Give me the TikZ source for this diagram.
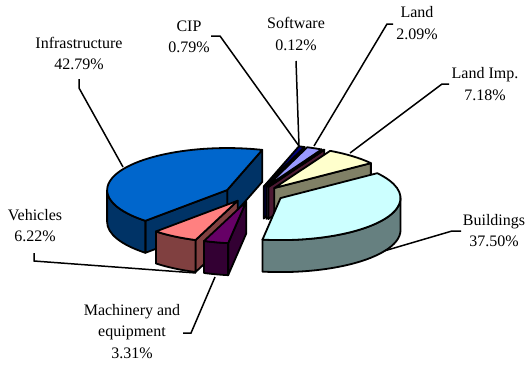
\documentclass[tikz,border=0pt]{standalone}
\usepackage{fontspec}
\setmainfont{Liberation Serif}
\definecolor{cipT}{HTML}{000080}\definecolor{cipS}{HTML}{000040}
\definecolor{landT}{HTML}{9999FF}\definecolor{landS}{HTML}{4D4D80}
\definecolor{softT}{HTML}{993366}\definecolor{softS}{HTML}{4D1A33}
\definecolor{limpT}{HTML}{FFFFCC}\definecolor{limpS}{HTML}{808066}
\definecolor{bldT}{HTML}{CCFFFF}\definecolor{bldS}{HTML}{668080}
\definecolor{machT}{HTML}{660066}\definecolor{machS}{HTML}{330033}
\definecolor{vehT}{HTML}{FF8080}\definecolor{vehS}{HTML}{804040}
\definecolor{infT}{HTML}{0066CC}\definecolor{infS}{HTML}{003366}
\def\CX{254}\def\CY{194}\def\DP{32}\def\EX{31}\def\EY{7.9}
\newcommand\sliceapex[2]{%
  \pgfmathsetmacro\smid{(#1+#2)/2}%
  \pgfmathsetmacro\ax{\CX+\EX*cos(\smid)}%
  \pgfmathsetmacro\ay{-\CY+\EY*sin(\smid)}}
\newcommand\faceat[2]{%
  \filldraw[pie, fill=#2] (\ax,\ay) -- ++(#1:120pt and 42pt) -- ++(0,-\DP) -- (\ax,\ay-\DP) -- cycle;}
\newcommand\wallface[3]{%
  \filldraw[pie, fill=#3] (\ax,\ay) ++(#1:120pt and 42pt) arc[start angle=#1, end angle=#2, x radius=120pt, y radius=42pt] -- ++(0,-\DP) arc[start angle=#2, end angle=#1, x radius=120pt, y radius=42pt] -- cycle;}
\newcommand\topface[3]{%
  \filldraw[pie, fill=#3] (\ax,\ay) -- ++(#1:120pt and 42pt) arc[start angle=#1, end angle=#2, x radius=120pt, y radius=42pt] -- cycle;}
\newcommand\twol[2]{\begin{tabular}[t]{@{}c@{}}#1\\#2\end{tabular}}
\tikzset{
  pie/.style={draw=black, line width=1.8pt, line join=round},
  leader/.style={draw=black, line width=1.5pt},
  lbl/.style={inner sep=0pt, anchor=base, font=\fontsize{16}{21.5}\selectfont}
}
\begin{document}
\begin{tikzpicture}[x=1pt,y=1pt]
\useasboundingbox (0,-364) rectangle (526,0);
\fill[white] (0,-364) rectangle (526,0);
% CIP
\sliceapex{70.156}{73}
\faceat{70.156}{cipS}
\topface{70.156}{73}{cipT}
% Land
\sliceapex{62.632}{70.156}
\faceat{62.632}{landS}
\topface{62.632}{70.156}{landT}
% Software
\sliceapex{62.2}{62.632}
\faceat{62.2}{softS}
\topface{62.2}{62.632}{softT}
% Land Imp.
\sliceapex{36.352}{62.2}
\faceat{36.352}{limpS}
\topface{36.352}{62.2}{limpT}
% Infrastructure
\sliceapex{73}{227.044}
\faceat{73}{infS}
\faceat{227.044}{infS}
\wallface{180}{227.044}{infS}
\topface{73}{227.044}{infT}
% Buildings
\sliceapex{-98.648}{36.352}
\wallface{-98.648}{0}{bldS}
\topface{-98.648}{36.352}{bldT}
% Vehicles
\sliceapex{-132.956}{-110.564}
\faceat{-110.564}{vehS}
\wallface{-132.956}{-110.564}{vehS}
\topface{-132.956}{-110.564}{vehT}
% Machinery
\sliceapex{-110.564}{-98.648}
\faceat{-98.648}{machS}
\wallface{-110.564}{-98.648}{machS}
\topface{-110.564}{-98.648}{machT}
% labels
\node[lbl] (infra) at (79,-48) {\twol{Infrastructure}{42.79\%}};
\node[lbl] (cip) at (189,-31) {\twol{CIP}{0.79\%}};
\node[lbl] (soft) at (296,-28.5) {\twol{Software}{0.12\%}};
\node[lbl] (land) at (417,-17.5) {\twol{Land}{2.09\%}};
\node[lbl] (limp) at (485,-78.5) {\twol{Land Imp.}{7.18\%}};
\node[lbl] (bld) at (494,-225) {\twol{Buildings}{37.50\%}};
\node[lbl] (veh) at (35,-220) {\twol{Vehicles}{6.22\%}};
\node[lbl] (mach) at (132,-315) {\begin{tabular}[t]{@{}c@{}}Machinery and\\equipment\\3.31\%\end{tabular}};
% leader points
\coordinate (infraA) at (79,-79);  \coordinate (infraB) at (79,-88);  \coordinate (infraE) at (123,-167);
\coordinate (cipA) at (211,-36);   \coordinate (cipB) at (220,-36);   \coordinate (cipE) at (299,-146);
\coordinate (softA) at (296,-61);  \coordinate (softE) at (299,-146);
\coordinate (landA) at (393,-24);  \coordinate (landB) at (387,-24);  \coordinate (landE) at (314,-146);
\coordinate (limpA) at (449,-84);  \coordinate (limpB) at (442,-84);  \coordinate (limpE) at (350,-153);
\coordinate (bldA) at (461,-231);  \coordinate (bldB) at (452,-231);  \coordinate (bldE) at (384,-251);
\coordinate (vehA) at (34,-253);   \coordinate (vehB) at (34,-261);   \coordinate (vehE) at (196,-273);
\coordinate (machA) at (183,-333); \coordinate (machB) at (191,-333); \coordinate (machE) at (215,-277);
\draw[leader] (infraA) -- (infraB) -- (infraE);
\draw[leader] (cipA) -- (cipB) -- (cipE);
\draw[leader] (softA) -- (softE);
\draw[leader] (landA) -- (landB) -- (landE);
\draw[leader] (limpA) -- (limpB) -- (limpE);
\draw[leader] (bldA) -- (bldB) -- (bldE);
\draw[leader] (vehA) -- (vehB) -- (vehE);
\draw[leader] (machA) -- (machB) -- (machE);
\end{tikzpicture}
\end{document}
